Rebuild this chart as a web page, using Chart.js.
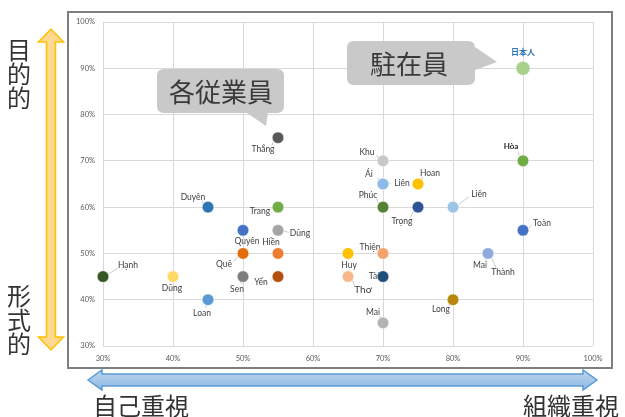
<!DOCTYPE html>
<html><head><meta charset="utf-8">
<script src="https://cdn.jsdelivr.net/npm/chart.js@4"></script>
<style>html,body{margin:0;padding:0;background:#fff;}#wrap{width:625px;height:417px;}</style>
</head><body><div id="wrap"><canvas id="c" width="625" height="417"></canvas></div>
<script>
// ---- data ----
const names = ['日本人','Hòa','Thắng','Khu','Ái','Liên','Hoan','Phúc','Trọng','Liên','Toàn','Mai','Long','Mai','Thiện','Tài','Huy','Thơ','Trang','Dũng','Hiền','Yến','Quyên','Quê','Sen','Duyên','Loan','Dũng','Hạnh'];
const xValues = [90,90,55,70,70,70,75,70,75,80,90,85,80,70,70,70,65,65,55,55,55,55,50,50,50,45,45,40,30];
const yValues = [90,70,75,70,65,65,65,60,60,60,55,50,40,35,50,45,50,45,60,55,50,45,55,50,45,60,40,45,45];
const secondLabels = {11:'Thành'};
const xTicks = [30,40,50,60,70,80,90,100];
const yTicks = [30,40,50,60,70,80,90,100];
// ---- styles ----
const colors = ['#a9d18e','#70ad47','#595959','#c8c8c8','#8dbbe6','#8dbbe6','#ffc000','#548235','#2f5597','#9dc3e6','#4472c4','#8faadc','#b8860b','#b4b4b4','#f4a36c','#1f4e79','#ffc000','#f8b88b','#70ad47','#a5a5a5','#ed7d31','#b4500f','#4472c4','#e46c0a','#7f7f7f','#2e75b6','#5b9bd5','#ffd966','#375623'];
const labelOffsets = [[0,-16],[-12,-14],[-15,12],[-16,-9],[-14,-10],[19,-1],[12,-11],[-15,-12],[-16,14],[26,-13],[19,-7],[-8,12],[-12,10],[-10,-11],[-13,-6],[-9,0],[1,12],[15,13],[-18,4],[22,3],[-7,-11],[-17,6],[4,11],[-19,11],[-6,13],[-15,-10],[-6,14],[-1,12],[25,-11]];
const secondOffsets = {11:[15,19]};

const pts = xValues.map((x,i)=>({x, y:yValues[i]}));

function leader(ctx, lx, ly, px, py){
  const dx = px-lx, dy = py-ly, d = Math.hypot(dx,dy);
  if (d < 14) return;
  const sx = lx + dx*(8/d)*1.4, sy = ly + dy*(6/d);
  const ex = px - dx*(6/d), ey = py - dy*(6/d);
  ctx.beginPath(); ctx.moveTo(sx,sy); ctx.lineTo(ex,ey); ctx.stroke();
}

const decor = {
  id:'decor',
  beforeDraw(chart){
    const ctx = chart.ctx;
    ctx.save();
    ctx.fillStyle='#fff'; ctx.fillRect(0,0,chart.width,chart.height);
    ctx.strokeStyle='#7f7f7f'; ctx.lineWidth=2;
    ctx.strokeRect(68,12,544,356);
    ctx.restore();
  },
  beforeDatasetsDraw(chart){
    const ctx = chart.ctx, xs = chart.scales.x, ys = chart.scales.y;
    ctx.save();
    ctx.textAlign='center'; ctx.textBaseline='middle';
    ctx.strokeStyle='#bfbfbf'; ctx.lineWidth=0.8;
    names.forEach((n,i)=>{
      const px = xs.getPixelForValue(xValues[i]), py = ys.getPixelForValue(yValues[i]);
      const lab = [[n, labelOffsets[i]]];
      if (secondLabels[i]) lab.push([secondLabels[i], secondOffsets[i]]);
      lab.forEach(([t,o])=>{
        const lx = px+o[0], ly = py+o[1];
        if (i===0){ ctx.fillStyle='#2e75b6'; ctx.font='bold 8px "Noto Sans CJK JP"'; }
        else if (i===1){ ctx.fillStyle='#262626'; ctx.font='bold 8px Lato'; }
        else { ctx.fillStyle='#404040'; ctx.font= (t==='Thơ'?'10px Lato':'8.5px Lato'); }
        if (i!==0) leader(ctx,lx,ly,px,py);
        ctx.fillText(t,lx,ly);
      });
    });
    ctx.restore();
  },
  afterDraw(chart){
    const ctx = chart.ctx;
    ctx.save();
    function bubble(x,y,w,h,r,tail){
      ctx.beginPath();
      ctx.moveTo(x+r,y); ctx.lineTo(x+w-r,y); ctx.quadraticCurveTo(x+w,y,x+w,y+r);
      if (tail.side==='right'){ ctx.lineTo(x+w,tail.a); ctx.lineTo(tail.tx,tail.ty); ctx.lineTo(x+w,tail.b); }
      ctx.lineTo(x+w,y+h-r); ctx.quadraticCurveTo(x+w,y+h,x+w-r,y+h);
      if (tail.side==='bottom'){ ctx.lineTo(tail.b,y+h); ctx.lineTo(tail.tx,tail.ty); ctx.lineTo(tail.a,y+h); }
      ctx.lineTo(x+r,y+h); ctx.quadraticCurveTo(x,y+h,x,y+h-r);
      ctx.lineTo(x,y+r); ctx.quadraticCurveTo(x,y,x+r,y);
      ctx.closePath();
      ctx.fillStyle='#c9c9c9'; ctx.fill();
    }
    bubble(157,69,127,44,7,{side:'bottom',a:247,b:268,tx:266,ty:126});
    bubble(347,41,128,44,7,{side:'right',a:47,b:70,tx:497,ty:62});
    ctx.fillStyle='#3a3a3a'; ctx.textAlign='center'; ctx.textBaseline='middle';
    ctx.font='26px "Noto Sans CJK JP"';
    ctx.fillText('各従業員',221,92);
    ctx.fillText('駐在員',409,64);
    const cx=51, t=29, b=350, hw=12.5, hl=13, sw=4.5;
    ctx.beginPath();
    ctx.moveTo(cx,t); ctx.lineTo(cx+hw,t+hl); ctx.lineTo(cx+sw,t+hl); ctx.lineTo(cx+sw,b-hl);
    ctx.lineTo(cx+hw,b-hl); ctx.lineTo(cx,b); ctx.lineTo(cx-hw,b-hl); ctx.lineTo(cx-sw,b-hl);
    ctx.lineTo(cx-sw,t+hl); ctx.lineTo(cx-hw,t+hl); ctx.closePath();
    ctx.fillStyle='#ffd990'; ctx.fill(); ctx.strokeStyle='#ffc000'; ctx.lineWidth=1.5; ctx.stroke();
    const cy=380, l=88, r2=597, hh=10, hL=14, sh=6;
    ctx.beginPath();
    ctx.moveTo(l,cy); ctx.lineTo(l+hL,cy-hh); ctx.lineTo(l+hL,cy-sh); ctx.lineTo(r2-hL,cy-sh);
    ctx.lineTo(r2-hL,cy-hh); ctx.lineTo(r2,cy); ctx.lineTo(r2-hL,cy+hh); ctx.lineTo(r2-hL,cy+sh);
    ctx.lineTo(l+hL,cy+sh); ctx.lineTo(l+hL,cy+hh); ctx.closePath();
    const g = ctx.createLinearGradient(0,cy-hh,0,cy+hh);
    g.addColorStop(0,'#bcd6ef'); g.addColorStop(1,'#8fb9e3');
    ctx.fillStyle=g; ctx.fill(); ctx.strokeStyle='#5b9bd5'; ctx.lineWidth=1.5; ctx.stroke();
    ctx.fillStyle='#333'; ctx.font='24px "Noto Sans CJK JP"';
    ctx.fillText('自己重視',141,406);
    ctx.fillText('組織重視',571,406);
    ['目','的','的'].forEach((c,k)=>ctx.fillText(c,19,50+k*24));
    ['形','式','的'].forEach((c,k)=>ctx.fillText(c,19,296+k*24));
    ctx.restore();
  }
};

new Chart(document.getElementById('c'),{
  type:'scatter',
  data:{datasets:[{
    data:pts,
    clip:false,
    backgroundColor:colors,
    borderColor:colors.map(()=> 'rgba(255,255,255,0.6)'),
    borderWidth:0.8,
    pointRadius:names.map((n,i)=> i===0?7:5.8)
  }]},
  options:{
    responsive:false, animation:false, devicePixelRatio:1,
    layout:{padding:{left:73,right:32,top:22,bottom:51}},
    plugins:{legend:{display:false},tooltip:{enabled:false}},
    scales:{
      x:{type:'linear',min:30,max:100,
        afterBuildTicks(s){s.ticks=xTicks.map(v=>({value:v}));},
        afterFit(s){s.height=20;},
        grid:{color:'#d9d9d9',lineWidth:1,drawTicks:false},
        border:{display:false},
        ticks:{padding:8,color:'#595959',font:{family:'Lato',size:7.5},callback:v=>v+'%'}},
      y:{type:'linear',min:30,max:100,
        afterBuildTicks(s){s.ticks=yTicks.map(v=>({value:v}));},
        afterFit(s){s.width=30;},
        grid:{color:'#d9d9d9',lineWidth:1,drawTicks:false},
        border:{display:false},
        ticks:{padding:8,color:'#595959',font:{family:'Lato',size:7.5},callback:v=>v+'%'}}
    }
  },
  plugins:[decor]
});
</script>
</body></html>
